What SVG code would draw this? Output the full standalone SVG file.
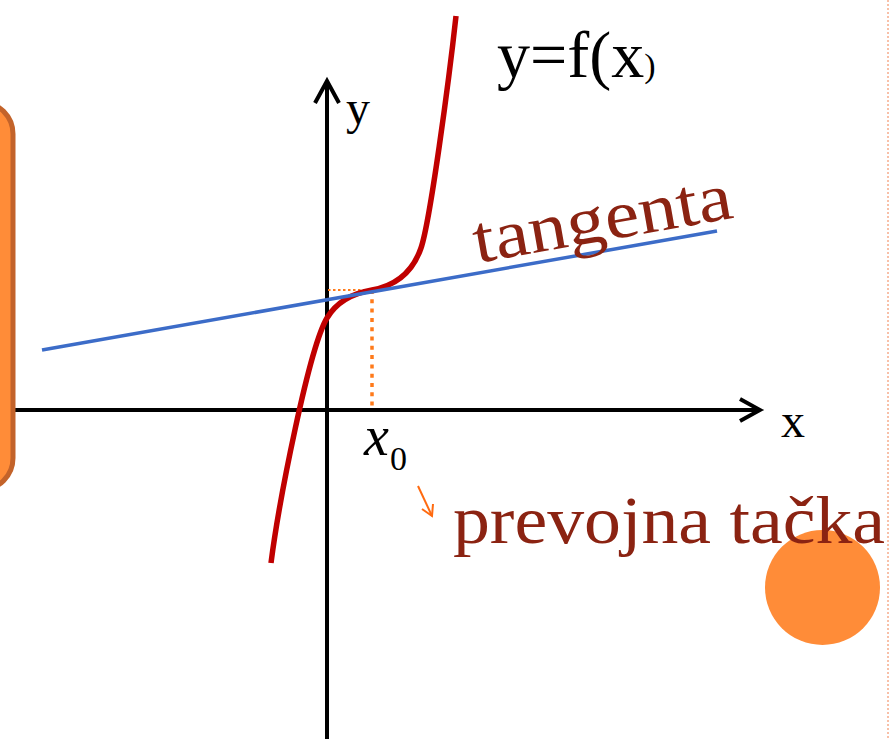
<svg xmlns="http://www.w3.org/2000/svg" width="890" height="739" viewBox="0 0 890 739">
  <style>
    .axis { stroke: #000; stroke-width: 4; fill: none; }
    .head { stroke: #000; stroke-width: 4; fill: none; stroke-linecap: butt; stroke-linejoin: miter; }
    .lbl { font-family: "Liberation Serif", serif; fill: #000; }
    .red { font-family: "Liberation Serif", serif; fill: #8B2312; font-size: 68px; }
    .guide { stroke: #FF7A1A; fill: none; }
    .deco { fill: #FF8C38; }
  </style>
  <rect width="890" height="739" fill="#ffffff"/>
  <g id="decor">
    <circle cx="822.5" cy="587.5" r="57.5" class="deco"/>
    <line x1="888" y1="0" x2="888" y2="739" stroke="#F8C0A8" stroke-width="2" stroke-dasharray="2 2"/>
  </g>
  <g id="connectors">
    <g id="x-axis">
      <line x1="0" y1="410" x2="759" y2="410" class="axis"/>
      <polyline points="740,399 760,410 740,421" class="head"/>
    </g>
    <g id="y-axis">
      <line x1="327" y1="739" x2="327" y2="82" class="axis"/>
      <polyline points="315,103 327,81 339,103" class="head"/>
    </g>
    <g id="guides">
      <line x1="328" y1="290" x2="372" y2="290" class="guide" stroke-width="2.2" stroke-dasharray="2.5 2.5"/>
      <line x1="372" y1="290" x2="372" y2="407" class="guide" stroke-width="3.5" stroke-dasharray="4 5.3"/>
    </g>
    <g id="curve">
      <path d="M271,563 C279,501 309,348 327,318 C337,301.4 354,293 372,290 C394,286 412,274 421,248 C430,222 449,80 456,16" stroke="#C00000" stroke-width="5.5" fill="none"/>
    </g>
    <g id="tangent">
      <line x1="42" y1="350" x2="717" y2="231" stroke="#3C6CC8" stroke-width="3.5"/>
    </g>
    <g id="pointer">
      <line x1="418" y1="486" x2="432" y2="516" stroke="#FF6A10" stroke-width="2"/>
      <polyline points="422,509 432,516 433,504" stroke="#FF6A10" stroke-width="2" fill="none"/>
    </g>
  </g>
  <g id="left-panel">
    <rect x="-60" y="102" width="73" height="388" rx="32" fill="#FF8C38" stroke="#C3632A" stroke-width="5"/>
  </g>
  <g id="label-fx">
    <text x="497" y="77" class="lbl" font-size="66">y=f(x<tspan font-size="34">)</tspan></text>
  </g>
  <g id="label-y">
    <text x="346" y="124" class="lbl" font-size="48">y</text>
  </g>
  <g id="label-x">
    <text x="781" y="437" class="lbl" font-size="48">x</text>
  </g>
  <g id="label-x0">
    <text x="364" y="455" class="lbl" font-size="56" font-style="italic">x</text>
    <text x="390" y="470" class="lbl" font-size="34">0</text>
  </g>
  <g id="label-tangenta">
    <text x="477" y="263" class="red" textLength="262" lengthAdjust="spacingAndGlyphs" transform="rotate(-10 477 263)">tangenta</text>
  </g>
  <g id="label-prevojna">
    <text x="453" y="543" class="red" textLength="432" lengthAdjust="spacingAndGlyphs">prevojna tačka</text>
  </g>
</svg>
